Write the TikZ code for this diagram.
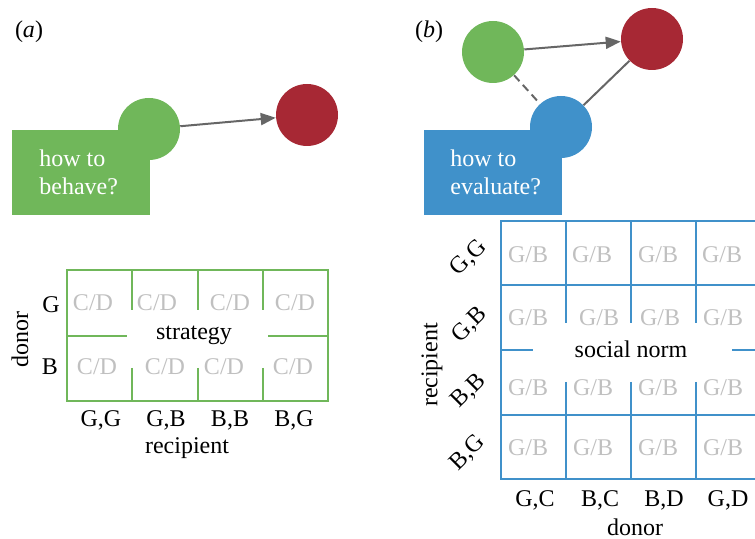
\documentclass[tikz,border=0pt]{standalone}
\usepackage{fontspec}
\setmainfont{Liberation Serif}
\usetikzlibrary{arrows.meta}
\definecolor{leafgreen}{RGB}{112,183,90}
\definecolor{wine}{RGB}{167,40,52}
\definecolor{skyblue}{RGB}{64,145,202}
\definecolor{cellgray}{RGB}{192,192,192}
\definecolor{linkgray}{RGB}{102,102,102}
\begin{document}
\begin{tikzpicture}[x=0.5pt,y=-0.5pt,
  font=\fontsize{12}{14}\selectfont,
  dot/.style={circle, inner sep=0pt, minimum size=31pt},
  qbox/.style={rectangle, inner sep=0pt, minimum width=69pt, minimum height=42.5pt},
  qtext/.style={anchor=west, align=left, text=white, inner sep=0pt},
  cell/.style={text=cellgray, inner sep=0pt},
  lbl/.style={inner sep=0pt},
  link/.style={draw=linkgray, line width=1pt},
  arrowlink/.style={link, -{Triangle[length=7.5pt,width=6pt]}},
  gridg/.style={draw=leafgreen, line width=1.1pt},
  gridgv/.style={draw=leafgreen, line width=1.4pt},
  gridb/.style={draw=skyblue, line width=1.2pt}]
\clip (0,0) rectangle (755,539);

% ---------- panel (a) ----------
\node[lbl] (la) at (29,32) {(\textit{a})};
\node[qbox, fill=leafgreen] (boxa) at (81,173) {};
\node[dot, fill=leafgreen] (ga) at (149,129) {};
\node[qtext] (ta) at (39,172) {how to\\behave?};
\node[dot, fill=wine] (ra) at (307,115) {};
\draw[arrowlink] (ga) -- (ra);

% strategy table
\draw[gridg] (67,270) rectangle (328,401);
\foreach \x in {132,198,263}{
  \draw[gridgv] (\x,270) -- (\x,310);
  \draw[gridgv] (\x,368) -- (\x,401);
}
\draw[gridg] (67,336) -- (127,336);
\draw[gridg] (268,336) -- (328,336);
\node[lbl] (strat) at (194,335) {strategy};
\node[cell] (c11) at (93,303) {C/D};
\node[cell] (c12) at (157,303) {C/D};
\node[cell] (c13) at (230,303) {C/D};
\node[cell] (c14) at (295,303) {C/D};
\node[cell] (c21) at (97,367) {C/D};
\node[cell] (c22) at (165,367) {C/D};
\node[cell] (c23) at (224,367) {C/D};
\node[cell] (c24) at (293,367) {C/D};
\node[lbl] (dg) at (51,305) {G};
\node[lbl] (db) at (50,367) {B};
\node[lbl, rotate=90] (donora) at (20,340) {donor};
\node[lbl] (r1) at (101,420) {G,G};
\node[lbl] (r2) at (166,420) {G,B};
\node[lbl] (r3) at (230,420) {B,B};
\node[lbl] (r4) at (294,420) {B,G};
\node[lbl] (recipa) at (187,448) {recipient};

% ---------- panel (b) ----------
\node[lbl] (lb) at (429,32) {(\textit{b})};
\node[qbox, fill=skyblue] (boxb) at (493,173) {};
\node[dot, fill=skyblue] (bb) at (561,127) {};
\node[qtext] (tb) at (450,172) {how to\\evaluate?};
\node[dot, fill=leafgreen] (gb) at (493,52) {};
\node[dot, fill=wine] (rb) at (652,39) {};
\draw[arrowlink] (gb) -- (rb);
\draw[link] (rb) -- (bb);
\draw[link, dashed, dash pattern=on 4pt off 2.5pt] (gb) -- (bb);

% social norm table
\draw[gridb] (501,221) rectangle (761,479);
\draw[gridb] (501,285) -- (761,285);
\draw[gridb] (501,415) -- (761,415);
\draw[gridb] (501,350) -- (533,350);
\draw[gridb] (732,350) -- (761,350);
\foreach \x in {566,631,696}{
  \draw[gridb] (\x,221) -- (\x,323);
  \draw[gridb] (\x,382) -- (\x,479);
}
\node[lbl] (norm) at (631,349) {social norm};
\foreach \r/\y/\a/\b/\c in {1/255/592/658/722, 2/318/599/660/723, 3/388/593/658/723, 4/448/593/658/723}{
  \node[cell] (n\r a) at (528,\y) {G/B};
  \node[cell] (n\r b) at (\a,\y) {G/B};
  \node[cell] (n\r c) at (\b,\y) {G/B};
  \node[cell] (n\r d) at (\c,\y) {G/B};
}
\node[lbl, rotate=45] (q1) at (469,258) {G,G};
\node[lbl, rotate=45] (q2) at (470,325) {G,B};
\node[lbl, rotate=45] (q3) at (469,391) {B,B};
\node[lbl, rotate=45] (q4) at (468,453) {B,G};
\node[lbl, rotate=90] (recipb) at (432,365) {recipient};
\node[lbl] (s1) at (535,500) {G,C};
\node[lbl] (s2) at (600,500) {B,C};
\node[lbl] (s3) at (664,500) {B,D};
\node[lbl] (s4) at (728,500) {G,D};
\node[lbl] (donorb) at (635,527) {donor};
\end{tikzpicture}
\end{document}
